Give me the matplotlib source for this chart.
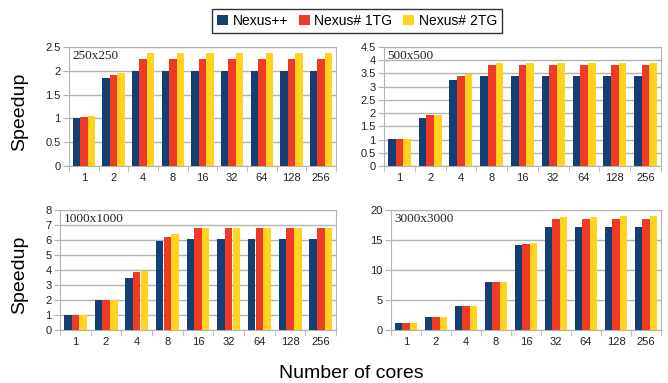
import numpy as np
import matplotlib
matplotlib.use("Agg")
import matplotlib.pyplot as plt
from matplotlib.patches import Patch

plt.rcParams['font.family'] = ['Liberation Sans', 'DejaVu Sans']

cores = ["1", "2", "4", "8", "16", "32", "64", "128", "256"]
series_names = ["Nexus++", "Nexus# 1TG", "Nexus# 2TG"]
colors = ["#133f73", "#ef3b24", "#ffd320"]

# speedup values per problem size, one list per series
s250_nexuspp = [1.0, 1.85, 2.0, 2.0, 2.0, 2.0, 2.0, 2.0, 2.0]
s250_1tg = [1.03, 1.91, 2.25, 2.25, 2.25, 2.25, 2.25, 2.25, 2.25]
s250_2tg = [1.06, 1.96, 2.38, 2.38, 2.38, 2.38, 2.38, 2.38, 2.38]

s500_nexuspp = [1.02, 1.81, 3.24, 3.39, 3.39, 3.39, 3.39, 3.39, 3.39]
s500_1tg = [1.02, 1.92, 3.39, 3.81, 3.81, 3.81, 3.81, 3.81, 3.81]
s500_2tg = [1.02, 1.92, 3.48, 3.89, 3.89, 3.89, 3.89, 3.89, 3.89]

s1000_nexuspp = [1.0, 2.0, 3.47, 5.93, 6.07, 6.07, 6.07, 6.07, 6.07]
s1000_1tg = [1.0, 2.0, 3.87, 6.2, 6.8, 6.8, 6.8, 6.8, 6.8]
s1000_2tg = [1.0, 2.0, 3.96, 6.4, 6.8, 6.8, 6.8, 6.8, 6.8]

s3000_nexuspp = [1.17, 2.17, 4.0, 8.0, 14.17, 17.17, 17.17, 17.17, 17.17]
s3000_1tg = [1.17, 2.17, 4.0, 8.0, 14.33, 18.5, 18.5, 18.5, 18.5]
s3000_2tg = [1.17, 2.17, 4.0, 8.0, 14.5, 18.83, 18.83, 19.0, 19.0]

W, H = 668, 383
fig = plt.figure(figsize=(W / 100, H / 100), dpi=100)


def px_axes(left, right, top, bottom):
    return fig.add_axes([left / W, 1 - bottom / H, (right - left) / W, (bottom - top) / H])


panels = [
    ((69, 336, 47, 166), "250x250", (s250_nexuspp, s250_1tg, s250_2tg), 2.5, 0.5),
    ((384, 661, 47, 166), "500x500", (s500_nexuspp, s500_1tg, s500_2tg), 4.5, 0.5),
    ((60, 336, 210, 330), "1000x1000", (s1000_nexuspp, s1000_1tg, s1000_2tg), 8, 1),
    ((391, 661, 210, 330), "3000x3000", (s3000_nexuspp, s3000_1tg, s3000_2tg), 20, 5),
]

x = np.arange(len(cores))
bw = 0.25
grid_c = "#b3b3b3"

for box, title, data, ymax, step in panels:
    ax = px_axes(*box)
    for i, vals in enumerate(data):
        ax.bar(x + (i - 1) * bw, vals, width=bw, color=colors[i], zorder=3)
    ax.set_xlim(-0.5, len(cores) - 0.5)
    ax.set_ylim(0, ymax)
    yt = np.arange(0, ymax + step / 2, step)
    ax.set_yticks(yt)
    ax.set_yticklabels([f"{v:g}" for v in yt])
    ax.yaxis.grid(True, color=grid_c, linewidth=1, zorder=0)
    ax.set_xticks(x)
    ax.set_xticklabels(cores)
    ax.set_xticks(np.arange(-0.5, len(cores)), minor=True)
    ax.tick_params(axis='x', which='major', length=0, labelsize=8, pad=5, colors='#222222')
    ax.tick_params(axis='x', which='minor', length=4, color=grid_c, direction='out')
    ax.tick_params(axis='y', length=4, labelsize=8, pad=2, colors='#222222')
    ax.tick_params(axis='y', color=grid_c)
    for sp in ax.spines.values():
        sp.set_color(grid_c)
    ax.text(0.012, 0.975, title, transform=ax.transAxes, ha='left', va='top',
            fontsize=9.5, family='Liberation Serif', color='#222222', zorder=5)

fig.text(20 / W, 1 - 112 / H, "Speedup", rotation=90, ha='center', va='center', fontsize=14)
fig.text(20 / W, 1 - 275 / H, "Speedup", rotation=90, ha='center', va='center', fontsize=14)
fig.text(351 / W, 1 - 373 / H, "Number of cores", ha='center', va='center', fontsize=14)

handles = [Patch(facecolor=c, edgecolor='none') for c in colors]
fig.legend(handles, series_names, loc='center', bbox_to_anchor=(357 / W, 1 - 21 / H),
           ncol=3, fontsize=10, frameon=True, fancybox=False, edgecolor='black',
           handlelength=0.8, handleheight=0.8, handletextpad=0.3, columnspacing=0.8,
           borderpad=0.35, borderaxespad=0)

fig.savefig("out.png", dpi=100)
